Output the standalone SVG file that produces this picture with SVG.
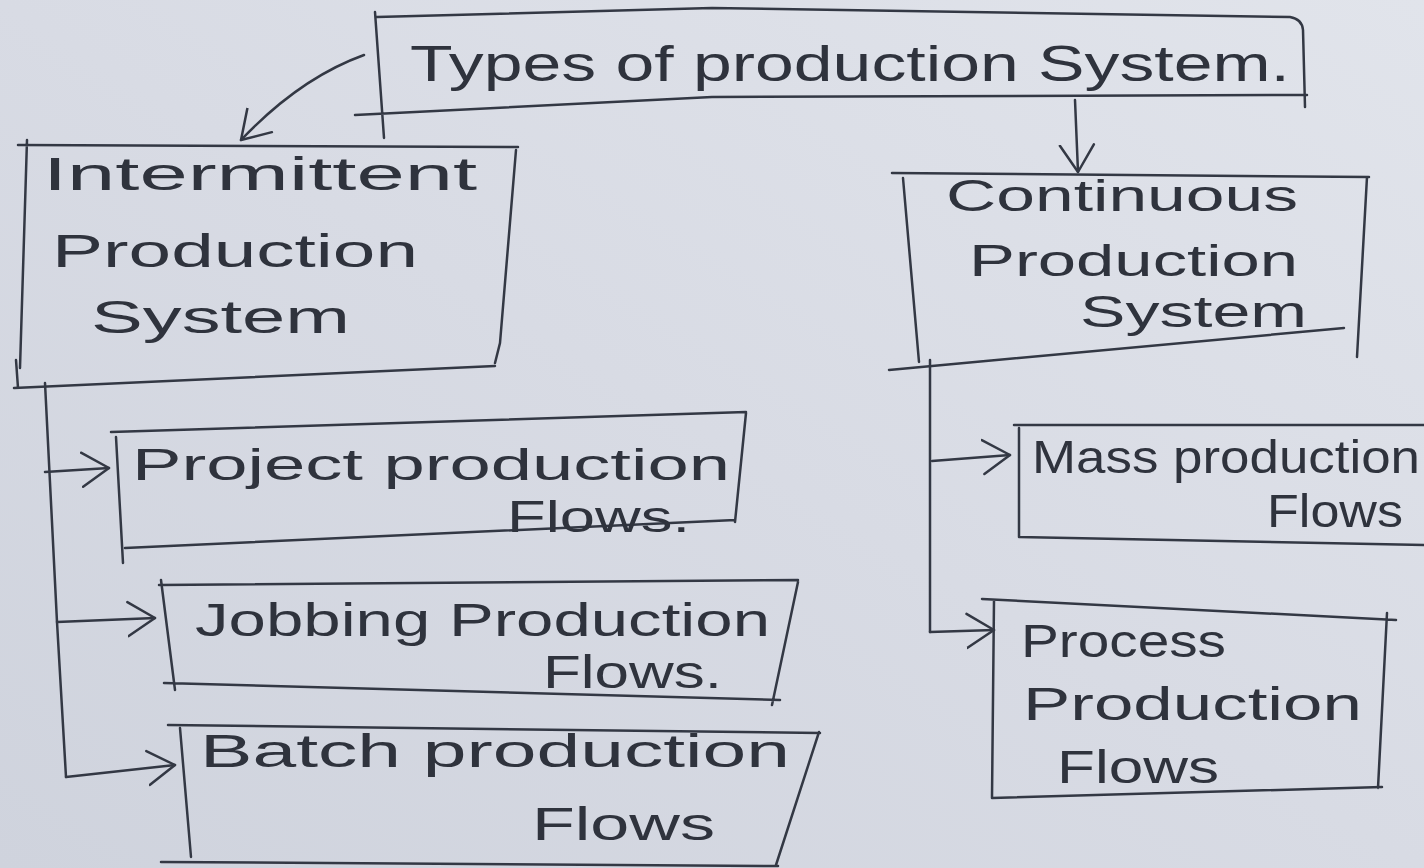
<svg xmlns="http://www.w3.org/2000/svg" width="1424" height="868" viewBox="0 0 1424 868">
  <defs>
    <linearGradient id="paper" x1="0" y1="1" x2="1" y2="0">
      <stop offset="0" stop-color="#cfd3dd"/>
      <stop offset="0.5" stop-color="#d8dbe4"/>
      <stop offset="1" stop-color="#e1e4eb"/>
    </linearGradient>
    <!-- open chevron arrowhead, as drawn with a pen -->
    <marker id="chevron" viewBox="0 0 30 40" refX="28" refY="20" markerWidth="30" markerHeight="40" markerUnits="userSpaceOnUse" orient="auto">
      <path d="M1,3 L28,20 L1,37" fill="none" stroke="#333844" stroke-width="2.5" stroke-linecap="round" stroke-linejoin="round"/>
    </marker>
    <style>
      .pen { fill: none; stroke: #333844; stroke-width: 2.5; stroke-linecap: round; stroke-linejoin: round; }
      .ink { fill: #2f333d; font-family: "Liberation Sans", "DejaVu Sans", sans-serif; font-size: 46px; }
      .title { font-size: 50px; }
      .small { font-size: 44px; }
    </style>
  </defs>

  <rect x="0" y="0" width="1424" height="868" fill="url(#paper)"/>

  <!-- Root -->
  <g id="node-types">
    <path class="pen" d="M375,12 L384,138 M377,17 L712,8 L1290,17 Q1302,19 1303,30 L1305,107 M355,115 L712,97 L1307,95"/>
    <text class="ink title" x="410" y="81" textLength="880" lengthAdjust="spacingAndGlyphs">Types of production System.</text>
  </g>

  <!-- Intermittent branch -->
  <g id="node-intermittent">
    <path class="pen" d="M18,145 L518,147 M27,140 L20,368 M16,360 L18,388 M14,388 L495,366 M516,150 L500,343 L495,363"/>
    <text class="ink" x="43" y="190" textLength="434" lengthAdjust="spacingAndGlyphs">Intermittent</text>
    <text class="ink" x="52" y="267" textLength="366" lengthAdjust="spacingAndGlyphs">Production</text>
    <text class="ink" x="91" y="333" textLength="259" lengthAdjust="spacingAndGlyphs">System</text>
  </g>

  <g id="node-project">
    <path class="pen" d="M111,432 L746,412 M116,437 L123,563 M125,548 L735,520 M746,413 L735,522"/>
    <text class="ink small" x="132" y="480" textLength="598" lengthAdjust="spacingAndGlyphs">Project production</text>
    <text class="ink small" x="507" y="532" textLength="183" lengthAdjust="spacingAndGlyphs">Flows.</text>
  </g>

  <g id="node-jobbing">
    <path class="pen" d="M159,585 L798,580 M161,580 L175,690 M164,683 L780,700 M798,582 L772,705"/>
    <text class="ink" x="195" y="636" textLength="575" lengthAdjust="spacingAndGlyphs">Jobbing Production</text>
    <text class="ink" x="543" y="688" textLength="179" lengthAdjust="spacingAndGlyphs">Flows.</text>
  </g>

  <g id="node-batch">
    <path class="pen" d="M168,725 L820,733 M180,728 L191,857 M161,862 L778,866 M819,732 L776,865"/>
    <text class="ink" x="200" y="767" textLength="590" lengthAdjust="spacingAndGlyphs">Batch production</text>
    <text class="ink" x="532" y="840" textLength="183" lengthAdjust="spacingAndGlyphs">Flows</text>
  </g>

  <!-- Continuous branch -->
  <g id="node-continuous">
    <path class="pen" d="M892,173 L1369,177 M903,178 L919,362 M1367,177 L1357,357 M889,370 L1344,328"/>
    <text class="ink small" x="946" y="211" textLength="352" lengthAdjust="spacingAndGlyphs">Continuous</text>
    <text class="ink small" x="969" y="276" textLength="329" lengthAdjust="spacingAndGlyphs">Production</text>
    <text class="ink small" x="1080" y="327" textLength="227" lengthAdjust="spacingAndGlyphs">System</text>
  </g>

  <g id="node-mass">
    <path class="pen" d="M1014,425 L1424,425 M1019,428 L1019,537 L1424,545"/>
    <text class="ink" x="1032" y="473" textLength="388" lengthAdjust="spacingAndGlyphs">Mass production</text>
    <text class="ink" x="1267" y="527" textLength="136" lengthAdjust="spacingAndGlyphs">Flows</text>
  </g>

  <g id="node-process">
    <path class="pen" d="M982,599 L1396,620 M994,600 L992,798 M1387,613 L1378,788 M992,798 L1382,787"/>
    <text class="ink" x="1021" y="657" textLength="205" lengthAdjust="spacingAndGlyphs">Process</text>
    <text class="ink" x="1023" y="720" textLength="339" lengthAdjust="spacingAndGlyphs">Production</text>
    <text class="ink" x="1057" y="783" textLength="162" lengthAdjust="spacingAndGlyphs">Flows</text>
  </g>

  <!-- Connectors -->
  <g id="connectors">
    <path class="pen" d="M364,55 Q300,78 241,140" marker-end="url(#chevron)"/>
    <path class="pen" d="M1075,100 L1078,172" marker-end="url(#chevron)"/>

    <path class="pen" d="M45,383 L57,622 L66,777"/>
    <path class="pen" d="M45,472 L109,468" marker-end="url(#chevron)"/>
    <path class="pen" d="M57,622 L155,618" marker-end="url(#chevron)"/>
    <path class="pen" d="M66,777 L175,765" marker-end="url(#chevron)"/>

    <path class="pen" d="M930,360 L930,632"/>
    <path class="pen" d="M932,461 L1010,455" marker-end="url(#chevron)"/>
    <path class="pen" d="M930,632 L994,630" marker-end="url(#chevron)"/>
  </g>
</svg>
